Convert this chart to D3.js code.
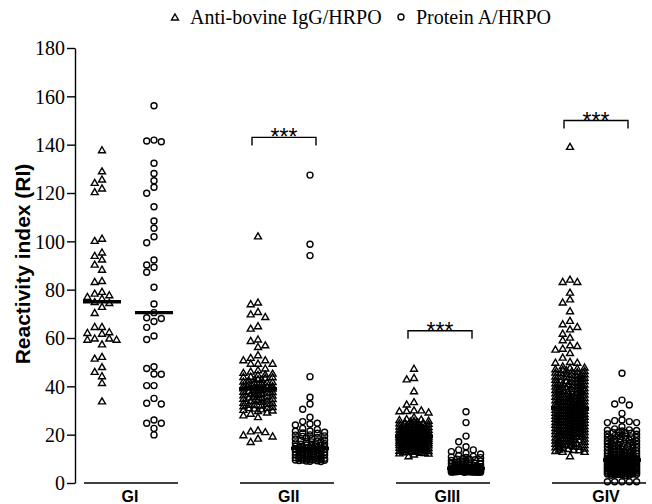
<!DOCTYPE html>
<html>
<head>
<meta charset="utf-8">
<script src="https://cdn.jsdelivr.net/npm/d3@7"></script>
<style>
  html, body { margin: 0; padding: 0; background: #fff; }
  svg { display: block; }
</style>
</head>
<body>
<svg id="chart" width="652" height="504"></svg>
<script>
// ---------------- DATA ----------------
const groups = ["GI", "GII", "GIII", "GIV"];
const seriesNames = ["Anti-bovine IgG/HRPO", "Protein A/HRPO"];
const yTicks = [0, 20, 40, 60, 80, 100, 120, 140, 160, 180];
const yLabel = "Reactivity index (RI)";

// Anti-bovine IgG/HRPO (triangles)
const igG_GI = [137.8, 129.1, 125.7, 124.3, 122.0, 120.5, 101.2, 100.3, 95.5, 94.1, 92.6, 90.5, 88.4,
  83.7, 83.3, 79.2, 78.5, 77.8, 77.1, 76.4, 75.0, 74.6, 73.0, 70.5, 64.7, 64.7, 62.5, 62.2, 61.9,
  59.9, 59.9, 59.4, 59.4, 57.5, 52.3, 51.6, 48.1, 46.1, 44.3, 41.5, 33.9];
const igG_GII = [102.2, 74.8, 74.1, 70.9, 69.9, 68.8, 65.0, 64.0, 59.5, 58.9, 57.1, 56.4, 53.0, 51.9,
  50.9, 50.9, 49.5, 49.5, 49.5, 47.5, 46.8,
  46.2, 45.4, 45.0, 44.1, 44.0, 43.6, 42.9, 42.8, 42.1, 41.7, 41.5, 41.0, 40.8, 40.2, 40.1, 39.9,
  39.6, 39.4, 39.3, 39.1,
  45.7, 44.8, 43.9, 43.1, 42.5, 41.9, 41.2, 40.5, 39.8, 39.2,
  38.9, 38.7, 38.2, 38.1, 37.8, 37.5, 37.0, 36.9, 36.4, 36.3, 35.8, 35.5, 35.2, 34.9, 34.6, 34.2,
  33.9, 33.7, 33.1, 32.8, 32.5, 32.4, 31.9, 31.6, 31.2, 30.9, 30.6, 30.4, 30.1, 29.9,
  38.5, 37.9, 37.2, 36.6, 35.9, 35.0, 34.1, 33.3, 32.2, 31.1,
  29.3, 28.8, 28.1, 27.4, 21.9, 21.5, 21.2, 19.9, 19.4, 18.5, 17.1];
const igG_GIII = [47.4, 43.6, 43.0, 38.1, 33.6, 32.6, 30.2, 30.2, 29.9, 29.8, 29.3, 27.4, 24.0,
  26.6, 26.2, 25.9, 25.8, 25.3, 25.1, 24.8, 24.5, 24.4, 24.1, 23.8, 23.5, 23.3, 23.1, 22.8, 22.6,
  22.4, 22.2, 21.9, 21.7, 21.6, 21.3, 21.2, 21.0, 20.8, 20.7, 20.5, 20.3, 20.2, 20.0, 19.9, 19.8, 19.6,
  26.4, 25.6, 25.0, 24.6, 24.2, 23.7, 23.2, 22.9, 22.5, 22.1, 21.8, 21.4, 21.1, 20.9, 20.6, 20.4,
  20.1, 19.9, 19.7, 19.6,
  19.4, 19.3, 19.2, 19.0, 18.9, 18.8, 18.6, 18.5, 18.3, 18.2, 18.0, 17.9, 17.8, 17.6, 17.5, 17.3,
  17.2, 17.1, 16.9, 16.7, 16.6, 16.5, 16.3, 16.1, 16.0, 15.8, 15.7, 15.5, 15.3, 15.2, 15.0, 14.8,
  14.6, 14.5, 14.3, 14.1, 13.9, 13.7, 13.5, 13.4, 13.2, 13.0, 12.8, 12.5, 12.3, 11.9, 11.2,
  19.4, 19.1, 18.7, 18.4, 18.1, 17.7, 17.4, 17.0, 16.8, 16.4, 16.0, 15.6, 15.1, 14.7, 14.2, 13.8,
  13.3, 12.9, 12.6, 12.4];
const igG_GIV = [139.2, 84.3, 83.3, 83.3, 78.9, 76.1, 74.8, 71.2, 67.2, 65.8, 64.7, 63.7, 61.9, 60.3,
  59.2, 57.1, 56.8, 55.7, 55.3, 53.9, 52.0, 50.2, 49.9, 49.9,
  48.4, 47.9, 47.5, 47.2, 46.8, 46.3, 46.0, 45.6, 45.1, 44.9, 44.5, 44.0, 43.7, 43.4, 43.0, 42.6,
  42.3, 42.0, 41.6, 41.3, 41.0, 40.7, 40.3, 40.0, 39.7, 39.4, 39.1, 38.8, 38.4, 38.2, 37.9, 37.6,
  37.2, 37.0, 36.7, 36.4, 36.1, 35.8, 35.5, 35.3, 35.0, 34.7, 34.4, 34.2, 33.9, 33.6, 33.4, 33.1,
  32.8, 32.6, 32.3, 32.1, 31.8, 31.6, 31.4, 31.2,
  47.7, 47.0, 46.5, 45.8, 45.3, 44.7, 44.2, 43.9, 43.2, 42.8, 42.4, 41.8, 41.4, 40.9, 40.5, 40.1,
  39.8, 39.2, 38.9, 38.6, 38.1, 37.7, 37.4, 36.9, 36.6, 36.2, 35.9, 35.6, 35.1, 34.8, 34.5, 34.0,
  33.7, 33.3, 32.9, 32.5, 32.2, 31.9, 31.5, 31.1,
  30.9, 30.7, 30.5, 30.3, 30.1, 29.9, 29.6, 29.4, 29.2, 29.0, 28.7, 28.5, 28.3, 28.1, 27.8, 27.6,
  27.4, 27.2, 26.9, 26.7, 26.5, 26.3, 26.0, 25.8, 25.6, 25.3, 25.1, 24.9, 24.6, 24.4, 24.2, 23.9,
  23.7, 23.5, 23.2, 23.0, 22.8, 22.5, 22.3, 22.1, 21.8, 21.6, 21.3, 21.1, 20.9, 20.6, 20.4, 20.1,
  19.9, 19.7, 19.4, 19.2, 18.9, 18.7, 18.5, 18.2, 18.0, 17.7, 17.5, 17.3, 17.0, 16.8, 16.5, 16.3,
  16.1, 15.8, 15.6, 15.3, 15.1, 14.9, 14.6, 14.4, 14.2, 14.0, 13.8,
  30.8, 30.4, 30.0, 29.7, 29.3, 28.9, 28.6, 28.2, 27.9, 27.5, 27.1, 26.8, 26.4, 26.1, 25.7, 25.4,
  25.0, 24.7, 24.3, 24.0, 23.6, 23.3, 22.9, 22.6, 22.2, 21.9, 21.5, 21.2, 20.8, 20.5, 20.1, 19.8,
  19.3, 18.8, 18.3, 17.8, 17.2, 16.6, 15.9, 15.2,
  13.7, 13.4, 13.0, 13.0, 11.2];

// Protein A/HRPO (circles)
const protA_GI = [156.1, 141.9, 141.5, 141.2, 132.3, 128.1, 125.1, 122.4, 119.9, 114.3, 108.4, 105.4,
  101.9, 99.4, 92.3, 90.2, 89.3, 87.2, 81.0, 74.1, 70.5, 68.4, 68.1, 66.8, 64.4, 60.8, 59.4, 48.1,
  47.4, 45.1, 45.0, 40.3, 40.3, 35.0, 33.0, 32.7, 26.1, 24.7, 24.7, 22.6, 19.9];
const protA_GII = [127.4, 98.8, 94.1, 44.0, 35.5, 32.7, 30.5, 27.2, 25.4, 24.7, 24.4, 24.0, 22.6,
  22.1, 21.5, 21.4, 20.7, 20.6, 19.8, 19.5, 19.3, 18.9, 18.4, 18.2, 17.6, 17.4, 17.0, 16.9, 16.3,
  16.1, 15.7, 15.4, 15.2, 14.9, 14.7, 14.5,
  21.0, 19.9, 18.7, 17.8, 17.1, 16.6, 15.9, 15.5, 15.0, 14.6,
  14.3, 14.3, 14.1, 13.9, 13.9, 13.6, 13.5, 13.3, 13.1, 12.8, 12.8, 12.6, 12.3, 12.1, 12.0, 11.8,
  11.6, 11.6, 11.3, 11.1, 10.9, 10.8, 10.5, 10.5, 10.2, 10.0, 9.9, 9.8, 9.6, 9.5, 9.5, 9.4, 9.3,
  9.2, 9.1, 9.0, 8.9,
  14.2, 13.7, 13.2, 12.7, 12.2, 11.7, 11.2, 10.7, 10.2, 9.7];
const protA_GIII = [29.5, 25.0, 19.4, 17.1, 15.0, 13.7, 13.7, 13.0, 12.3, 12.0,
  11.4, 11.0, 10.8, 10.5, 10.1, 9.9, 9.6, 9.3, 9.1, 8.8, 8.6, 8.3, 8.1, 7.9, 7.7, 7.5, 7.3, 7.1,
  6.9, 6.8, 6.6, 6.5, 6.3, 6.2, 6.1,
  10.6, 9.8, 9.2, 8.7, 8.2, 7.8, 7.4, 7.0, 6.7, 6.6, 6.4, 6.3, 6.2, 6.1, 6.1,
  6.0, 5.9, 5.9, 5.8, 5.8, 5.7, 5.7, 5.6, 5.6, 5.5, 5.5, 5.4, 5.4, 5.3, 5.3, 5.2, 5.2, 5.1, 5.1,
  5.0, 5.0, 5.0, 4.9, 4.9, 4.8, 4.8, 4.8, 4.7, 4.7, 4.6, 4.6, 4.6, 4.5, 4.5, 4.5,
  5.9, 5.8, 5.6, 5.5, 5.4, 5.3, 5.1, 5.0, 4.9, 4.8, 4.7, 4.6, 4.5, 4.5, 4.4];
const protA_GIV = [45.4, 34.3, 32.7, 32.3, 28.8, 26.1, 25.8, 25.4, 25.0, 25.0, 23.3,
  22.4, 22.0, 21.7, 21.5, 21.1, 20.8, 20.6, 20.2, 19.9, 19.7, 19.4, 19.1, 18.8, 18.6, 18.3, 18.0,
  17.8, 17.5, 17.2, 17.0, 16.7, 16.5, 16.2, 16.0, 15.7, 15.5, 15.3, 15.0, 14.8, 14.6, 14.3, 14.1,
  13.9, 13.7, 13.4, 13.2, 13.0, 12.8, 12.6, 12.4, 12.2, 12.0, 11.8, 11.6, 11.4, 11.2, 11.0, 10.9,
  10.7, 10.5, 10.4, 10.2, 10.1, 9.9, 9.8, 9.7, 9.6,
  21.8, 20.9, 20.3, 19.6, 18.9, 18.1, 17.4, 16.8, 16.4, 15.9, 15.2, 14.7, 14.2, 13.8, 13.3, 12.9,
  12.5, 12.1, 11.7, 11.3, 11.0, 10.8, 10.6, 10.3, 10.1, 10.0, 9.9, 9.8, 9.7, 9.6,
  9.4, 9.4, 9.2, 9.1, 9.1, 8.9, 8.8, 8.6, 8.6, 8.5, 8.3, 8.2, 8.2, 8.0, 7.9, 7.7, 7.7, 7.6, 7.4,
  7.3, 7.3, 7.1, 7.0, 6.8, 6.8, 6.7, 6.5, 6.4, 6.4, 6.2, 6.1, 6.0, 5.9, 5.8, 5.6, 5.6, 5.5, 5.3,
  5.2, 5.2, 5.0, 4.9, 4.8, 4.8, 4.7, 4.5, 4.4, 4.4, 4.3, 4.1, 4.0, 4.0, 3.9, 3.8, 3.7, 3.7, 3.6,
  3.5, 3.4, 3.4, 3.3, 3.2, 3.1,
  9.4, 9.3, 9.1, 8.9, 8.7, 8.5, 8.3, 8.1, 7.9, 7.7, 7.5, 7.3, 7.1, 6.9, 6.7, 6.5, 6.3, 6.1, 5.9,
  5.7, 5.5, 5.3, 5.1, 4.9, 4.7, 4.5, 4.3, 4.1, 3.9, 3.7,
  0.5, 0.5, 0.5, 0.5, 0.5];

const igGSeries = [igG_GI, igG_GII, igG_GIII, igG_GIV];
const protASeries = [protA_GI, protA_GII, protA_GIII, protA_GIV];

// significance annotations (group, bracket level in RI units, label)
const sigGroups = ["GII", "GIII", "GIV"];
const sigLevels = [143, 63, 150];
const sigLabel = "***";

// ---------------- DRAWING ----------------
const svg = d3.select("#chart");
const W = 652, H = 504;

const y = d3.scaleLinear().domain([0, 180]).range([483, 48]);
const xGroup = d3.scalePoint().domain(groups).range([128, 596]);
const xLabel = d3.scalePoint().domain(groups).range([130, 606]);
const colOffset = d3.scalePoint().domain(seriesNames).range([-26, 26]);

const serif = "'Liberation Serif', 'Times New Roman', serif";
const sans = "'Liberation Sans', Arial, sans-serif";

// Y axis
const axisX = 75;
const yAxis = d3.axisLeft(y).tickValues(yTicks).tickSize(8).tickPadding(2).tickSizeOuter(0);
const gy = svg.append("g").attr("transform", `translate(${axisX},0)`).call(yAxis);
gy.select(".domain").attr("stroke", "#000").attr("stroke-width", 1.4);
gy.selectAll(".tick line").attr("stroke", "#000").attr("stroke-width", 1.4);
gy.selectAll(".tick text").attr("font-family", serif).attr("font-size", 20).attr("fill", "#000")
  .attr("dy", "0.34em");

svg.append("text")
  .attr("transform", `translate(30,264) rotate(-90)`)
  .attr("text-anchor", "middle")
  .attr("font-family", sans).attr("font-weight", "bold").attr("font-size", 21)
  .text(yLabel);

// group baselines and labels
groups.forEach(g => {
  const cx = xGroup(g);
  svg.append("line")
    .attr("x1", cx + colOffset(seriesNames[0]) - 18)
    .attr("x2", Math.min(W, cx + colOffset(seriesNames[1]) + 24))
    .attr("y1", y(0)).attr("y2", y(0))
    .attr("stroke", "#000").attr("stroke-width", 1.7);
  svg.append("text")
    .attr("x", xLabel(g)).attr("y", 502)
    .attr("text-anchor", "middle")
    .attr("font-family", sans).attr("font-weight", "bold").attr("font-size", 16)
    .text(g);
});

// beeswarm-like column layout (Prism style)
function layout(values, cx) {
  const d = 7.3, h = 6.6;
  const slots = [0, -1, 1, -2, 2, -0.5, 0.5, -1.5, 1.5, -0.25, 0.25, -0.75, 0.75, -1.25, 1.25, -1.75, 1.75];
  const pts = values.map(v => ({ v, py: y(v) })).sort((a, b) => b.v - a.v);
  const placed = [];
  pts.forEach(p => {
    let best = 0, bestScore = -1;
    for (const s of slots) {
      const px = cx + s * d;
      let score = Infinity;
      for (const q of placed) {
        const sc = Math.max(Math.abs(q.px - px) / d, Math.abs(q.py - p.py) / h);
        if (sc < score) score = sc;
      }
      if (score >= 0.95) { best = s; bestScore = Infinity; break; }
      if (score > bestScore) { bestScore = score; best = s; }
    }
    p.px = cx + best * d;
    placed.push(p);
  });
  return pts;
}

const triPath = d3.symbol().type(d3.symbolTriangle).size(21)();

function drawColumn(values, g, sName, shape) {
  const cx = xGroup(g) + colOffset(sName);
  const pts = layout(values, cx);
  const layer = svg.append("g");
  if (shape === "tri") {
    layer.selectAll("path").data(pts).join("path")
      .attr("d", triPath)
      .attr("transform", d => `translate(${d.px},${d.py + 0.8})`)
      .attr("fill", "none").attr("stroke", "#000").attr("stroke-width", 1.4);
  } else {
    layer.selectAll("circle").data(pts).join("circle")
      .attr("cx", d => d.px).attr("cy", d => d.py).attr("r", 3)
      .attr("fill", "none").attr("stroke", "#000").attr("stroke-width", 1.4);
  }
  const med = d3.median(values);
  svg.append("line")
    .attr("x1", cx - 19).attr("x2", cx + 19)
    .attr("y1", y(med)).attr("y2", y(med))
    .attr("stroke", "#000").attr("stroke-width", 3.4);
}

groups.forEach((g, i) => {
  drawColumn(igGSeries[i], g, seriesNames[0], "tri");
  drawColumn(protASeries[i], g, seriesNames[1], "circ");
});

// significance brackets
sigGroups.forEach((g, i) => {
  const x1 = xGroup(g) + colOffset(seriesNames[0]) - 6;
  const x2 = xGroup(g) + colOffset(seriesNames[1]) + 6;
  const yb = y(sigLevels[i]);
  svg.append("path")
    .attr("d", `M${x1},${yb + 8}V${yb}H${x2}V${yb + 8}`)
    .attr("fill", "none").attr("stroke", "#000").attr("stroke-width", 1.4);
  svg.append("text")
    .attr("x", (x1 + x2) / 2).attr("y", yb + 8)
    .attr("text-anchor", "middle")
    .attr("font-family", sans).attr("font-size", 23)
    .text(sigLabel);
});

// legend
const legend = svg.append("g");
legend.append("path").attr("d", triPath)
  .attr("transform", "translate(175,18)")
  .attr("fill", "none").attr("stroke", "#000").attr("stroke-width", 1.4);
legend.append("text").attr("x", 190).attr("y", 24)
  .attr("font-family", serif).attr("font-size", 20).text(seriesNames[0]);
legend.append("circle").attr("cx", 401).attr("cy", 17).attr("r", 3)
  .attr("fill", "none").attr("stroke", "#000").attr("stroke-width", 1.4);
legend.append("text").attr("x", 416).attr("y", 24)
  .attr("font-family", serif).attr("font-size", 20).text(seriesNames[1]);
</script>
</body>
</html>
